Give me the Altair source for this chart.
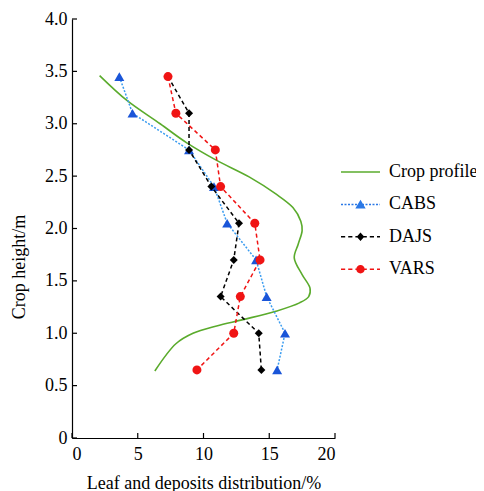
import altair as alt
import pandas as pd

# ---------------- data ----------------
heights = [3.45, 3.10, 2.75, 2.40, 2.05, 1.70, 1.35, 1.00, 0.65]
cabs = [3.6, 4.6, 8.9, 10.8, 11.8, 14.0, 14.8, 16.2, 15.6]
dajs = [7.3, 8.9, 8.9, 10.6, 12.7, 12.3, 11.3, 14.2, 14.4]
vars_ = [7.3, 7.9, 10.9, 11.3, 13.9, 14.3, 12.8, 12.3, 9.5]

profile_x = [2.1, 4.2, 6.7, 8.7, 11.0, 13.5, 15.5, 16.8, 17.4, 17.5, 17.2,
             16.9, 17.5, 18.1, 18.0, 17.3, 15.5, 13.0, 11.0, 9.2, 7.9, 6.3]
profile_y = [3.46, 3.22, 3.00, 2.82, 2.65, 2.49, 2.33, 2.20, 2.07, 1.98, 1.85,
             1.72, 1.56, 1.43, 1.35, 1.29, 1.21, 1.13, 1.07, 1.00, 0.90, 0.64]

series_names = ["Crop profile", "CABS", "DAJS", "VARS"]
x_ticks = [0, 5, 10, 15, 20]
y_ticks = [0, 0.5, 1.0, 1.5, 2.0, 2.5, 3.0, 3.5, 4.0]

# ---------------- styling ----------------
FONT = "Liberation Serif"
W, H = 263, 419
TICK = 5
GREEN = "#5aab2c"
BLUE_LINE = "#3a9cf0"
BLUE_MARK = "#1a55d8"
BLACK = "#000000"
RED = "#f01414"
legend_colors = [GREEN, "#2a78e6", BLACK, RED]


def frame(xs, ys):
    return pd.DataFrame({"x": xs, "y": ys, "i": list(range(len(xs)))})


def seg_path(half, dash, gap, t):
    parts = []
    x = -half
    while x < half:
        x2 = min(x + dash, half)
        parts.append(f"M{x:.3f},{-t:.3f}H{x2:.3f}V{t:.3f}H{x:.3f}Z")
        x = x2 + gap
    return "".join(parts)


HALF = 1.95
T = 0.075
p_profile = seg_path(HALF, 2 * HALF, 0, 0.085)
p_cabs = seg_path(HALF, 0.2, 0.15, T) + "M0,-0.47L0.52,0.4L-0.52,0.4Z"
p_dajs = seg_path(HALF, 0.42, 0.3, T) + "M0,-0.42L0.38,0L0,0.42L-0.38,0Z"
p_vars = seg_path(HALF, 0.42, 0.3, T) + "M-0.42,0A0.42,0.42,0,1,1,0.42,0A0.42,0.42,0,1,1,-0.42,0Z"
legend_shapes = [p_profile, p_cabs, p_dajs, p_vars]

xs = alt.Scale(domain=[0, 20], nice=False, zero=False)
ys = alt.Scale(domain=[0, 4], nice=False, zero=False)

main_x_axis = alt.Axis(values=x_ticks, ticks=False, tickSize=0,
                       labelPadding=7, format="d", labelFont=FONT, titleFont=FONT,
                       title="Leaf and deposits distribution/%",
                       titleY=50, titleBaseline="alphabetic", domainWidth=1.2)
main_y_axis = alt.Axis(values=y_ticks, ticks=False, tickSize=0,
                       labelPadding=5, labelFont=FONT, titleFont=FONT,
                       labelExpr="datum.value == 0 ? '0' : format(datum.value, '.1f')",
                       title="Crop height/m", titleX=-52.5, titleY=247.5,
                       titleBaseline="middle", domainWidth=1.2)


def enc_xy(xaxis=None, yaxis=None):
    return dict(x=alt.X("x:Q", scale=xs, axis=xaxis),
                y=alt.Y("y:Q", scale=ys, axis=yaxis))


profile = alt.Chart(frame(profile_x, profile_y)).mark_line(
    color=GREEN, strokeWidth=1.6, interpolate="catmull-rom"
).encode(order=alt.Order("i:Q"), **enc_xy(main_x_axis, main_y_axis))

# inward axis ticks, placed by the scales at the tick values
x_tick_marks = alt.Chart(pd.DataFrame({"v": x_ticks})).mark_rule(
    color="black", strokeWidth=1.2
).encode(x=alt.X("v:Q", scale=xs, axis=None), y=alt.value(H), y2=alt.value(H - TICK))
y_tick_marks = alt.Chart(pd.DataFrame({"v": y_ticks})).mark_rule(
    color="black", strokeWidth=1.2
).encode(y=alt.Y("v:Q", scale=ys, axis=None), x=alt.value(0), x2=alt.value(TICK))


def line_layer(vals, color, dash):
    return alt.Chart(frame(vals, heights)).mark_line(
        color=color, strokeWidth=1.5, strokeDash=dash
    ).encode(order=alt.Order("i:Q"), **enc_xy())


def point_layer(vals, color, shape, size):
    return alt.Chart(frame(vals, heights)).mark_point(
        color=color, shape=shape, filled=True, size=size, opacity=1
    ).encode(**enc_xy())


legend = alt.Legend(orient="none", legendX=278.5, legendY=143, title=None,
                    labelFont=FONT, labelFontSize=18, labelColor="black",
                    symbolSize=400, labelOffset=18.5, rowPadding=13.4,
                    symbolStrokeWidth=0, symbolOpacity=1, padding=0)

legend_df = pd.DataFrame({
    "series": series_names,
    "x": [profile_x[0], cabs[0], dajs[0], vars_[0]],
    "y": [profile_y[0], heights[0], heights[0], heights[0]],
})
legend_layer = alt.Chart(legend_df).mark_point(filled=True, opacity=0).encode(
    color=alt.Color("series:N", scale=alt.Scale(domain=series_names, range=legend_colors),
                    legend=legend),
    shape=alt.Shape("series:N", scale=alt.Scale(domain=series_names, range=legend_shapes),
                    legend=legend),
    **enc_xy(),
)

chart = alt.layer(
    profile,
    x_tick_marks,
    y_tick_marks,
    line_layer(cabs, BLUE_LINE, [2, 1.6]),
    point_layer(cabs, BLUE_MARK, "triangle-up", 100),
    line_layer(dajs, BLACK, [4, 3]),
    point_layer(dajs, BLACK, "diamond", 64),
    line_layer(vars_, RED, [4, 3]),
    point_layer(vars_, RED, "circle", 81),
    legend_layer,
).resolve_axis(x="independent", y="independent").properties(
    width=W, height=H,
    autosize=alt.AutoSizeParams(type="none"),
    padding={"left": 64, "top": 11, "right": 141, "bottom": 53},
).configure_view(stroke=None).configure_axis(
    grid=False, domainColor="black", tickColor="black", labelColor="black",
    titleColor="black", labelFont=FONT, titleFont=FONT, labelFontSize=18,
    titleFontSize=18, titleFontWeight="normal",
)

chart.save("out.html", embed_options={"renderer": "svg", "actions": False})
